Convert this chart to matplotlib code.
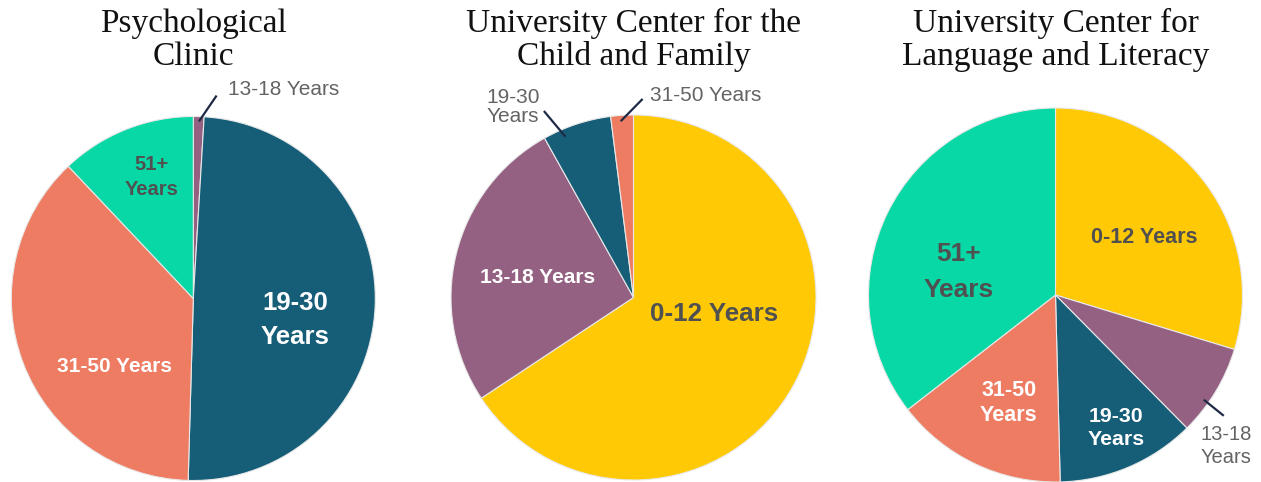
import matplotlib
matplotlib.use("Agg")
import matplotlib.pyplot as plt

# age groups and colours
c_child = "#FFCA05"
c_teen = "#956182"
c_young = "#165E78"
c_adult = "#EE7C62"
c_old = "#07D8A5"

titles = ["Psychological\nClinic",
          "University Center for the\nChild and Family",
          "University Center for\nLanguage and Literacy"]

# shares in percent, clockwise from 12 o'clock
clinic_labels = ["13-18 Years", "19-30\nYears", "31-50 Years", "51+\nYears"]
clinic_values = [0.95, 49.5, 37.5, 12.05]
clinic_colors = [c_teen, c_young, c_adult, c_old]

ucfc_labels = ["0-12 Years", "13-18 Years", "19-30\nYears", "31-50 Years"]
ucfc_values = [65.7, 26.2, 6.1, 2.0]
ucfc_colors = [c_child, c_teen, c_young, c_adult]

ucll_labels = ["0-12 Years", "13-18\nYears", "19-30\nYears", "31-50\nYears", "51+\nYears"]
ucll_values = [29.7, 7.9, 12.0, 14.9, 35.5]
ucll_colors = [c_child, c_teen, c_young, c_adult, c_old]

W, H = 1261, 482
fig = plt.figure(figsize=(W / 100, H / 100), dpi=100)
fig.patch.set_facecolor("white")

dark = "#505050"
grey = "#646464"

# pie centre / radius in pixels
layout = [(193.3, 298.5, 182.0), (633.5, 297.5, 182.5), (1055.5, 295.0, 187.0)]

# label placement in radius units: (x, y, fontsize, colour, kind, linespacing)
label_pos = [
    [(0.19, 1.146, 15, grey, "out", 1.0), (0.559, -0.118, 18.5, "white", "in", 1.55),
     (-0.435, -0.371, 15, "white", "in", 1.2), (-0.227, 0.668, 14.5, dark, "in", 1.45)],
    [(0.441, -0.090, 18.7, dark, "in", 1.2), (-0.523, 0.112, 15, "white", "in", 1.2),
     (-0.66, 1.044, 15, grey, "outc", 0.95), (0.09, 1.107, 15, grey, "out", 1.0)],
    [(0.473, 0.310, 15.5, dark, "in", 1.2), (0.912, -0.807, 14.5, grey, "outc", 1.25),
     (0.324, -0.711, 15.3, "white", "in", 1.25), (-0.249, -0.578, 15.5, "white", "in", 1.2),
     (-0.516, 0.123, 19, dark, "in", 1.6)],
]
# leader lines (radius units)
leaders = [
    [((0.031, 0.973), (0.128, 1.115))],
    [((-0.373, 0.881), (-0.491, 1.022)), ((-0.070, 0.966), (0.050, 1.088))],
    [((0.793, -0.56), (0.90, -0.646))],
]

data = [(clinic_labels, clinic_values, clinic_colors),
        (ucfc_labels, ucfc_values, ucfc_colors),
        (ucll_labels, ucll_values, ucll_colors)]

for i, (labels, values, colors) in enumerate(data):
    cx, cy, r = layout[i]
    ax = fig.add_axes([0, 0, 1, 1])
    ax.pie(values, colors=colors, startangle=90, counterclock=False,
           wedgeprops=dict(edgecolor="#e8e8e8", linewidth=0.8))
    ax.set_aspect("auto")
    ax.set_xlim(-cx / r, (W - cx) / r)
    ax.set_ylim(-(H - cy) / r, cy / r)
    ax.axis("off")
    ax.patch.set_visible(False)

    for lab, (x, y, fs, col, kind, ls) in zip(labels, label_pos[i]):
        if kind == "in":
            ax.text(x, y, lab, ha="center", va="center", fontsize=fs, color=col,
                    fontweight="bold", family="Liberation Sans", linespacing=ls)
        elif kind == "out":
            ax.text(x, y, lab, ha="left", va="center", fontsize=fs, color=col,
                    family="Liberation Sans")
        else:
            ax.text(x, y, lab, ha="center", va="center", fontsize=fs, color=col,
                    family="Liberation Sans", linespacing=ls, multialignment="left")
    for (x0, y0), (x1, y1) in leaders[i]:
        ax.plot([x0, x1], [y0, y1], color="#1e2a45", lw=1.6, solid_capstyle="butt")

    ax.text(0, cy / r - 40 / r, titles[i], ha="center", va="center",
            fontsize=24, color="#111111", family="Liberation Serif", linespacing=1.12)

fig.savefig("out.png", dpi=100, facecolor="white")
